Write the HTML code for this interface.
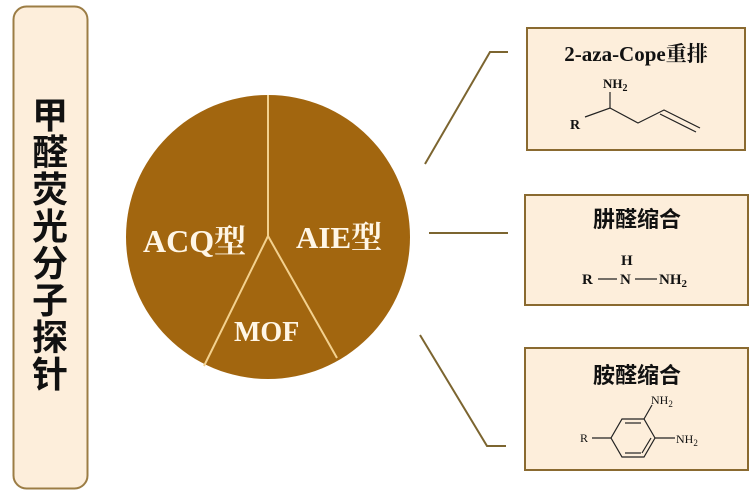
<!DOCTYPE html>
<html><head><meta charset="utf-8"><style>
html,body{margin:0;padding:0;background:#fff;}
svg{display:block;}
</style></head><body>
<svg width="756" height="497" viewBox="0 0 756 497" xmlns="http://www.w3.org/2000/svg" font-family="'Liberation Serif','Noto Serif CJK SC',serif">
<rect x="13.5" y="6.5" width="74" height="482" rx="13" fill="#fdeedb" stroke="#9c7d45" stroke-width="2"/>
<g font-family="'Liberation Sans','Noto Sans CJK SC',sans-serif" font-size="36" font-weight="bold" fill="#111" text-anchor="middle">
<text x="50" y="128">甲</text><text x="50" y="165">醛</text><text x="50" y="202">荧</text><text x="50" y="239">光</text><text x="50" y="276">分</text><text x="50" y="313">子</text><text x="50" y="350">探</text><text x="50" y="387">针</text>
</g>
<circle cx="268" cy="237" r="142" fill="#a2660f"/>
<g stroke="#f3d18e" stroke-width="2" fill="none">
<line x1="268" y1="95" x2="268" y2="236"/>
<polyline points="204,366 268,236 337,358"/>
</g>
<g fill="#fff6e6" font-weight="bold" font-family="'Liberation Serif','Noto Serif CJK SC',serif">
<text x="143" y="252" font-size="32">ACQ型</text>
<text x="296" y="248" font-size="31">AIE型</text>
<text x="234" y="341" font-size="28">MOF</text>
</g>
<g stroke="#7c6530" stroke-width="2" fill="none">
<polyline points="425,164 490,52 508,52"/>
<line x1="429" y1="233" x2="508" y2="233"/>
<polyline points="420,335 487,446 506,446"/>
</g>
<g fill="#fdeedb" stroke="#8a6a30" stroke-width="2">
<rect x="527" y="28" width="218" height="122"/>
<rect x="525" y="195" width="223" height="110"/>
<rect x="525" y="348" width="223" height="122"/>
</g>
<g fill="#111" font-weight="bold">
<text x="636" y="61" font-size="21" text-anchor="middle">2-aza-Cope重排</text>
<text x="603" y="88" font-size="13">NH<tspan font-size="10" dy="3">2</tspan></text>
<text x="570" y="129" font-size="14">R</text>
<text x="637" y="227" font-size="22" text-anchor="middle" font-family="'Liberation Sans','Noto Sans CJK SC',sans-serif">肼醛缩合</text>
<text x="621" y="265" font-size="15">H</text>
<text x="582" y="284" font-size="15">R</text>
<text x="620" y="284" font-size="15">N</text>
<text x="659" y="284" font-size="15">NH<tspan font-size="11" dy="3">2</tspan></text>
<text x="637" y="383" font-size="22" text-anchor="middle" font-family="'Liberation Sans','Noto Sans CJK SC',sans-serif">胺醛缩合</text>
</g>
<g fill="#111" font-size="12">
<text x="651" y="404">NH<tspan font-size="9" dy="3">2</tspan></text>
<text x="676" y="443">NH<tspan font-size="9" dy="3">2</tspan></text>
<text x="580" y="442">R</text>
</g>
<g stroke="#222" stroke-width="1.2" fill="none">
<polyline points="585,117 610,108 638,123 664,110 700,128"/>
<line x1="660" y1="114" x2="696" y2="132"/>
<line x1="610" y1="108" x2="610" y2="92"/>
<line x1="598" y1="279" x2="617" y2="279"/>
<line x1="635" y1="279" x2="657" y2="279"/>
<polygon points="655,438 644,419 622,419 611,438 622,457 644,457"/>
<line x1="625" y1="423" x2="641" y2="423"/>
<line x1="651" y1="438" x2="642" y2="453"/>
<line x1="625" y1="453" x2="641" y2="453"/>
<line x1="611" y1="438" x2="592" y2="438"/>
<line x1="644" y1="419" x2="652" y2="405"/>
<line x1="655" y1="438" x2="675" y2="438"/>
</g>
</svg>
</body></html>
